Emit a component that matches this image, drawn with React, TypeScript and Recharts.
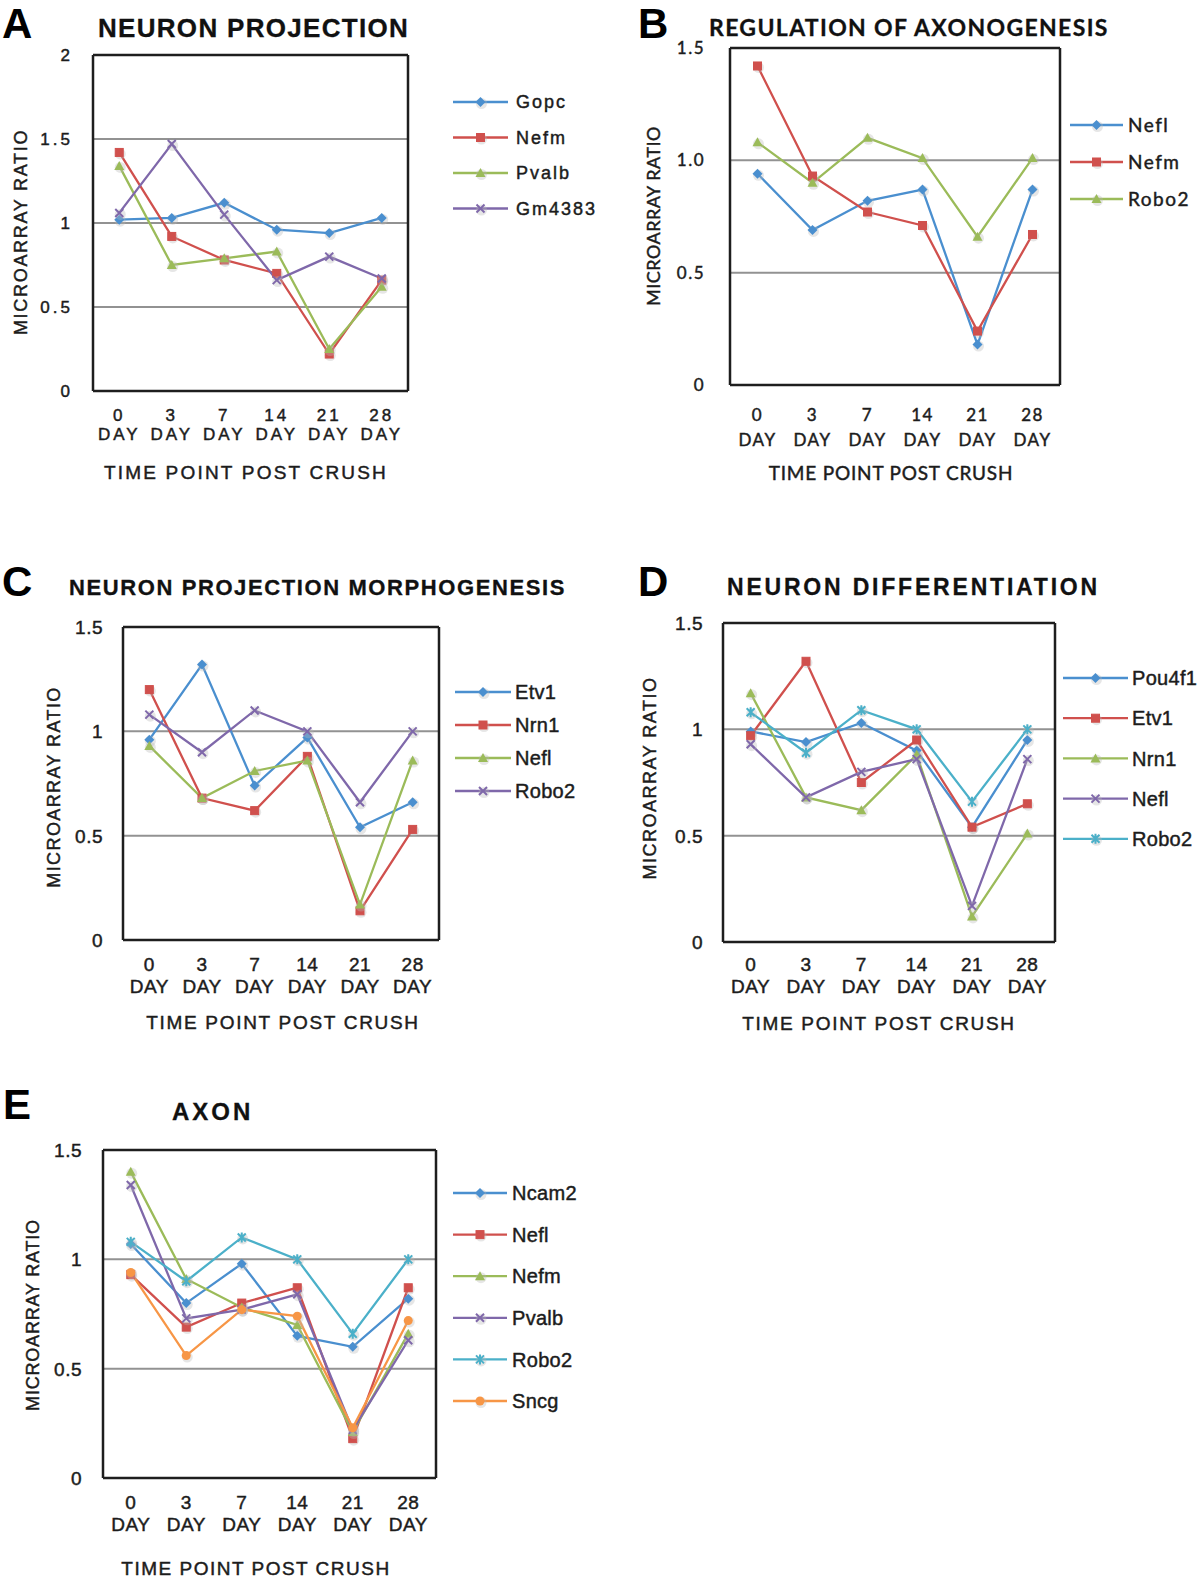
import React from 'react';
import { LineChart, Line, XAxis, YAxis, CartesianGrid } from 'recharts';

// ---------- shared categories ----------
const days = ['0', '3', '7', '14', '21', '28'];
const dayUnit = 'DAY';
const yAxisTitle = 'MICROARRAY RATIO';
const xAxisTitle = 'TIME POINT POST CRUSH';

// ---------- Panel A: NEURON PROJECTION ----------
const aNames = ['Gopc', 'Nefm', 'Pvalb', 'Gm4383'];
const aGopc = [1.02, 1.03, 1.12, 0.96, 0.94, 1.03];
const aNefm = [1.42, 0.92, 0.78, 0.70, 0.22, 0.66];
const aPvalb = [1.34, 0.75, 0.79, 0.83, 0.25, 0.62];
const aGm4383 = [1.06, 1.47, 1.05, 0.66, 0.80, 0.67];
const aYTicks = [0, 0.5, 1, 1.5, 2];
const aYLabels = ['0', '0.5', '1', '1.5', '2'];

// ---------- Panel B: REGULATION OF AXONOGENESIS ----------
const bNames = ['Nefl', 'Nefm', 'Robo2'];
const bNefl = [0.94, 0.69, 0.82, 0.87, 0.18, 0.87];
const bNefm = [1.42, 0.93, 0.77, 0.71, 0.24, 0.67];
const bRobo2 = [1.08, 0.90, 1.10, 1.01, 0.66, 1.01];
const bYTicks = [0, 0.5, 1, 1.5];
const bYLabels = ['0', '0.5', '1.0', '1.5'];

// ---------- Panel C: NEURON PROJECTION MORPHOGENESIS ----------
const cNames = ['Etv1', 'Nrn1', 'Nefl', 'Robo2'];
const cEtv1 = [0.96, 1.32, 0.74, 0.97, 0.54, 0.66];
const cNrn1 = [1.20, 0.68, 0.62, 0.88, 0.14, 0.53];
const cNefl = [0.93, 0.68, 0.81, 0.86, 0.17, 0.86];
const cRobo2 = [1.08, 0.90, 1.10, 1.00, 0.66, 1.00];
const cYTicks = [0, 0.5, 1, 1.5];
const cYLabels = ['0', '0.5', '1', '1.5'];

// ---------- Panel D: NEURON DIFFERENTIATION ----------
const dNames = ['Pou4f1', 'Etv1', 'Nrn1', 'Nefl', 'Robo2'];
const dPou4f1 = [0.99, 0.94, 1.03, 0.90, 0.54, 0.95];
const dEtv1 = [0.97, 1.32, 0.75, 0.95, 0.54, 0.65];
const dNrn1 = [1.17, 0.68, 0.62, 0.88, 0.12, 0.51];
const dNefl = [0.93, 0.68, 0.80, 0.86, 0.17, 0.86];
const dRobo2 = [1.08, 0.89, 1.09, 1.00, 0.66, 1.00];
const dYTicks = [0, 0.5, 1, 1.5];
const dYLabels = ['0', '0.5', '1', '1.5'];

// ---------- Panel E: AXON ----------
const eNames = ['Ncam2', 'Nefl', 'Nefm', 'Pvalb', 'Robo2', 'Sncg'];
const eNcam2 = [1.07, 0.80, 0.98, 0.65, 0.60, 0.82];
const eNefl = [0.93, 0.69, 0.80, 0.87, 0.18, 0.87];
const eNefm = [1.40, 0.91, 0.78, 0.70, 0.21, 0.66];
const ePvalb = [1.34, 0.73, 0.77, 0.84, 0.22, 0.63];
const eRobo2 = [1.08, 0.90, 1.10, 1.00, 0.66, 1.00];
const eSncg = [0.94, 0.56, 0.77, 0.74, 0.23, 0.72];
const eYTicks = [0, 0.5, 1, 1.5];
const eYLabels = ['0', '0.5', '1', '1.5'];

// ---------- styles ----------
const BLUE = '#4a8fcf';
const RED = '#d0504d';
const GREEN = '#9bbb59';
const PURPLE = '#7f68aa';
const AQUA = '#4bb0c9';
const ORANGE = '#f79646';
const ARIAL = "'Liberation Sans', Arial, Helvetica, sans-serif";
const CAL = "Lato, 'Open Sans', sans-serif";
const INK = '#1c1c1c';
const THICK = { stroke: INK, strokeWidth: 0.45 };

type Kind = 'diamond' | 'square' | 'triangle' | 'x' | 'star' | 'circle';
type Series = { name: string; values: number[]; color: string; kind: Kind };

function Marker({ kind, cx, cy, color }: { kind: Kind; cx: number; cy: number; color: string }) {
  if (cx == null || cy == null || isNaN(cx) || isNaN(cy)) return null;
  const halo = <circle cx={cx + 1} cy={cy + 1.5} r={5.5} fill="#b8b8b8" opacity={0.35} />;
  switch (kind) {
    case 'diamond':
      return (
        <g>
          {halo}
          <polygon points={`${cx},${cy - 5} ${cx + 5},${cy} ${cx},${cy + 5} ${cx - 5},${cy}`} fill={color} />
        </g>
      );
    case 'square':
      return (
        <g>
          {halo}
          <rect x={cx - 4} y={cy - 4} width={8} height={8} fill={color} stroke={color} strokeWidth={1} />
        </g>
      );
    case 'triangle':
      return (
        <g>
          {halo}
          <polygon points={`${cx},${cy - 5} ${cx + 5},${cy + 4} ${cx - 5},${cy + 4}`} fill={color} />
        </g>
      );
    case 'x':
      return (
        <g>
          {halo}
          <path d={`M${cx - 4},${cy - 4}L${cx + 4},${cy + 4}M${cx - 4},${cy + 4}L${cx + 4},${cy - 4}`} stroke={color} strokeWidth={2} />
        </g>
      );
    case 'star':
      return (
        <g>
          {halo}
          <path
            d={`M${cx - 4},${cy - 4}L${cx + 4},${cy + 4}M${cx - 4},${cy + 4}L${cx + 4},${cy - 4}M${cx},${cy - 5}L${cx},${cy + 5}`}
            stroke={color}
            strokeWidth={2}
          />
        </g>
      );
    default:
      return (
        <g>
          {halo}
          <circle cx={cx} cy={cy} r={4.5} fill={color} />
        </g>
      );
  }
}

type Panel = {
  letter: string;
  letterX: number;
  letterY: number;
  title: string;
  titleX: number;
  titleY: number;
  titleSize: number;
  titleLs: number;
  font: string;
  L: number;
  R: number;
  T: number;
  B: number;
  yMax: number;
  yTicks: number[];
  yLabels: string[];
  tickSize: number;
  tickLs: number;
  yGap: number;
  x1: number;
  x2: number;
  legX1: number;
  legX2: number;
  legTextX: number;
  legY0: number;
  legStep: number;
  legSize: number;
  legLs: number;
  yTitleX: number;
  yTitleY: number;
  yTitleSize: number;
  yTitleLs: number;
  xTitleX: number;
  xTitleY: number;
  xTitleSize: number;
  xTitleLs: number;
  series: Series[];
};

const panels: Panel[] = [
  {
    letter: 'A', letterX: 2, letterY: 38,
    title: 'NEURON PROJECTION', titleX: 98, titleY: 37, titleSize: 26, titleLs: 1.3,
    font: ARIAL,
    L: 93, R: 408, T: 55, B: 391,
    yMax: 2, yTicks: aYTicks, yLabels: aYLabels,
    tickSize: 17, tickLs: 3, yGap: 20, x1: 30, x2: 49,
    legX1: 453, legX2: 508, legTextX: 516, legY0: 102, legStep: 35.5, legSize: 18, legLs: 2,
    yTitleX: 21, yTitleY: 232, yTitleSize: 18, yTitleLs: 1.7,
    xTitleX: 246, xTitleY: 479, xTitleSize: 19, xTitleLs: 2.2,
    series: [
      { name: aNames[0], values: aGopc, color: BLUE, kind: 'diamond' },
      { name: aNames[1], values: aNefm, color: RED, kind: 'square' },
      { name: aNames[2], values: aPvalb, color: GREEN, kind: 'triangle' },
      { name: aNames[3], values: aGm4383, color: PURPLE, kind: 'x' },
    ],
  },
  {
    letter: 'B', letterX: 638, letterY: 38,
    title: 'REGULATION OF AXONOGENESIS', titleX: 709, titleY: 36, titleSize: 23, titleLs: 1.35,
    font: CAL,
    L: 730, R: 1060, T: 48, B: 385,
    yMax: 1.5, yTicks: bYTicks, yLabels: bYLabels,
    tickSize: 17, tickLs: 1.5, yGap: 25, x1: 36, x2: 61,
    legX1: 1070, legX2: 1123, legTextX: 1128, legY0: 125, legStep: 37, legSize: 19, legLs: 1.5,
    yTitleX: 654, yTitleY: 216, yTitleSize: 18, yTitleLs: 0.5,
    xTitleX: 891, xTitleY: 480, xTitleSize: 19, xTitleLs: 0.8,
    series: [
      { name: bNames[0], values: bNefl, color: BLUE, kind: 'diamond' },
      { name: bNames[1], values: bNefm, color: RED, kind: 'square' },
      { name: bNames[2], values: bRobo2, color: GREEN, kind: 'triangle' },
    ],
  },
  {
    letter: 'C', letterX: 2, letterY: 596,
    title: 'NEURON PROJECTION MORPHOGENESIS', titleX: 69, titleY: 595, titleSize: 22, titleLs: 1.6,
    font: ARIAL,
    L: 123, R: 439, T: 627, B: 940,
    yMax: 1.5, yTicks: cYTicks, yLabels: cYLabels,
    tickSize: 19, tickLs: 0.5, yGap: 20, x1: 31, x2: 53,
    legX1: 455, legX2: 511, legTextX: 515, legY0: 692, legStep: 33, legSize: 20, legLs: 0.3,
    yTitleX: 54, yTitleY: 787, yTitleSize: 18, yTitleLs: 1.4,
    xTitleX: 283, xTitleY: 1029, xTitleSize: 19, xTitleLs: 1.7,
    series: [
      { name: cNames[0], values: cEtv1, color: BLUE, kind: 'diamond' },
      { name: cNames[1], values: cNrn1, color: RED, kind: 'square' },
      { name: cNames[2], values: cNefl, color: GREEN, kind: 'triangle' },
      { name: cNames[3], values: cRobo2, color: PURPLE, kind: 'x' },
    ],
  },
  {
    letter: 'D', letterX: 638, letterY: 596,
    title: 'NEURON DIFFERENTIATION', titleX: 727, titleY: 595, titleSize: 23, titleLs: 2.8,
    font: ARIAL,
    L: 723, R: 1055, T: 623, B: 942,
    yMax: 1.5, yTicks: dYTicks, yLabels: dYLabels,
    tickSize: 19, tickLs: 0.5, yGap: 20, x1: 29, x2: 51,
    legX1: 1063, legX2: 1128, legTextX: 1132, legY0: 678, legStep: 40.2, legSize: 20, legLs: 0.3,
    yTitleX: 650, yTitleY: 778, yTitleSize: 18, yTitleLs: 1.5,
    xTitleX: 879, xTitleY: 1030, xTitleSize: 19, xTitleLs: 1.7,
    series: [
      { name: dNames[0], values: dPou4f1, color: BLUE, kind: 'diamond' },
      { name: dNames[1], values: dEtv1, color: RED, kind: 'square' },
      { name: dNames[2], values: dNrn1, color: GREEN, kind: 'triangle' },
      { name: dNames[3], values: dNefl, color: PURPLE, kind: 'x' },
      { name: dNames[4], values: dRobo2, color: AQUA, kind: 'star' },
    ],
  },
  {
    letter: 'E', letterX: 3, letterY: 1119,
    title: 'AXON', titleX: 172, titleY: 1120, titleSize: 24, titleLs: 3,
    font: ARIAL,
    L: 103, R: 436, T: 1150, B: 1478,
    yMax: 1.5, yTicks: eYTicks, yLabels: eYLabels,
    tickSize: 19, tickLs: 0.5, yGap: 21, x1: 31, x2: 53,
    legX1: 453, legX2: 507, legTextX: 512, legY0: 1193, legStep: 41.6, legSize: 20, legLs: 0.3,
    yTitleX: 33, yTitleY: 1315, yTitleSize: 18, yTitleLs: 0.8,
    xTitleX: 256, xTitleY: 1575, xTitleSize: 19, xTitleLs: 1.5,
    series: [
      { name: eNames[0], values: eNcam2, color: BLUE, kind: 'diamond' },
      { name: eNames[1], values: eNefl, color: RED, kind: 'square' },
      { name: eNames[2], values: eNefm, color: GREEN, kind: 'triangle' },
      { name: eNames[3], values: ePvalb, color: PURPLE, kind: 'x' },
      { name: eNames[4], values: eRobo2, color: AQUA, kind: 'star' },
      { name: eNames[5], values: eSncg, color: ORANGE, kind: 'circle' },
    ],
  },
];

const YW = 90;
const MT = 12;
const XH = 80;
const MR = 12;

function buildRows(series: Series[]) {
  return days.map((d, i) => {
    const row: Record<string, string | number> = { day: d };
    series.forEach((s) => {
      row[s.name] = s.values[i];
    });
    return row;
  });
}

function PanelChart({ p }: { p: Panel }) {
  const plotW = p.R - p.L;
  const plotH = p.B - p.T;
  const band = plotW / days.length;
  const rows = buildRows(p.series);
  const width = YW + plotW + MR;
  const height = MT + plotH + XH;

  const XTick = (props: any) => {
    const { x, y, payload } = props;
    return (
      <text
        textAnchor="middle"
        fill={INK}
        {...THICK}
        fontFamily={p.font}
        fontSize={p.tickSize}
        letterSpacing={p.tickLs}
      >
        <tspan x={x} y={y + p.x1}>{payload.value}</tspan>
        <tspan x={x} y={y + p.x2}>{dayUnit}</tspan>
      </text>
    );
  };

  const YTick = (props: any) => {
    const { x, y, payload } = props;
    const idx = p.yTicks.indexOf(payload.value);
    return (
      <text
        x={x}
        y={y + p.tickSize * 0.36}
        textAnchor="end"
        fill={INK}
        {...THICK}
        fontFamily={p.font}
        fontSize={p.tickSize}
        letterSpacing={p.tickLs}
      >
        {idx >= 0 ? p.yLabels[idx] : String(payload.value)}
      </text>
    );
  };

  return (
    <div style={{ position: 'absolute', left: p.L - YW, top: p.T - MT, width, height }}>
      <LineChart width={width} height={height} data={rows} margin={{ top: MT, right: MR, bottom: 0, left: 0 }}>
        <CartesianGrid vertical={false} stroke="#929292" strokeWidth={2} />
        <CartesianGrid
          stroke="#1e1e1e"
          strokeWidth={2.5}
          horizontalCoordinatesGenerator={(g: any) => [g.offset.top, g.offset.top + g.offset.height]}
          verticalCoordinatesGenerator={(g: any) => [g.offset.left, g.offset.left + g.offset.width]}
        />
        <XAxis
          dataKey="day"
          height={XH}
          interval={0}
          axisLine={false}
          tickLine={false}
          tickSize={0}
          tickMargin={0}
          padding={{ left: band / 2, right: band / 2 }}
          tick={XTick}
        />
        <YAxis
          width={YW}
          domain={[0, p.yMax]}
          ticks={p.yTicks}
          interval={0}
          axisLine={false}
          tickLine={false}
          tickSize={0}
          tickMargin={p.yGap}
          tick={YTick}
        />
        {p.series.map((s) => (
          <Line
            key={s.name}
            type="linear"
            dataKey={s.name}
            stroke={s.color}
            strokeWidth={2.3}
            isAnimationActive={false}
            activeDot={false}
            dot={(dp: any) => (
              <Marker key={`${s.name}-${dp.index}`} kind={s.kind} cx={dp.cx} cy={dp.cy} color={s.color} />
            )}
          />
        ))}
      </LineChart>
    </div>
  );
}

function PanelText({ p }: { p: Panel }) {
  const yBase = p.yTitleX + p.yTitleSize * 0.36;
  return (
    <g>
      <text x={p.letterX} y={p.letterY} fontFamily={ARIAL} fontWeight={700} fontSize={42} fill="#000">
        {p.letter}
      </text>
      <text
        x={p.titleX}
        y={p.titleY}
        fontFamily={p.font}
        fontWeight={700}
        fontSize={p.titleSize}
        letterSpacing={p.titleLs}
        fill="#111"
        stroke="#111"
        strokeWidth={0.3}
      >
        {p.title}
      </text>
      <text
        x={yBase}
        y={p.yTitleY}
        transform={`rotate(-90 ${yBase} ${p.yTitleY})`}
        textAnchor="middle"
        fontFamily={p.font}
        fontSize={p.yTitleSize}
        letterSpacing={p.yTitleLs}
        fill={INK}
        {...THICK}
      >
        {yAxisTitle}
      </text>
      <text
        x={p.xTitleX}
        y={p.xTitleY}
        textAnchor="middle"
        fontFamily={p.font}
        fontSize={p.xTitleSize}
        letterSpacing={p.xTitleLs}
        fill={INK}
        {...THICK}
      >
        {xAxisTitle}
      </text>
      {p.series.map((s, i) => {
        const cy = p.legY0 + i * p.legStep;
        const cx = (p.legX1 + p.legX2) / 2;
        return (
          <g key={s.name}>
            <line x1={p.legX1} x2={p.legX2} y1={cy} y2={cy} stroke={s.color} strokeWidth={2.3} />
            <Marker kind={s.kind} cx={cx} cy={cy} color={s.color} />
            <text
              x={p.legTextX}
              y={cy + p.legSize * 0.36}
              fontFamily={p.font}
              fontSize={p.legSize}
              letterSpacing={p.legLs}
              fill={INK}
              {...THICK}
            >
              {s.name}
            </text>
          </g>
        );
      })}
    </g>
  );
}

export default function App() {
  return (
    <div style={{ position: 'absolute', left: 0, top: 0, width: 1200, height: 1580, background: '#fff', overflow: 'hidden' }}>
      {panels.map((p) => (
        <PanelChart key={p.letter} p={p} />
      ))}
      <svg width={1200} height={1580} style={{ position: 'absolute', left: 0, top: 0, pointerEvents: 'none' }}>
        {panels.map((p) => (
          <PanelText key={p.letter} p={p} />
        ))}
      </svg>
    </div>
  );
}
